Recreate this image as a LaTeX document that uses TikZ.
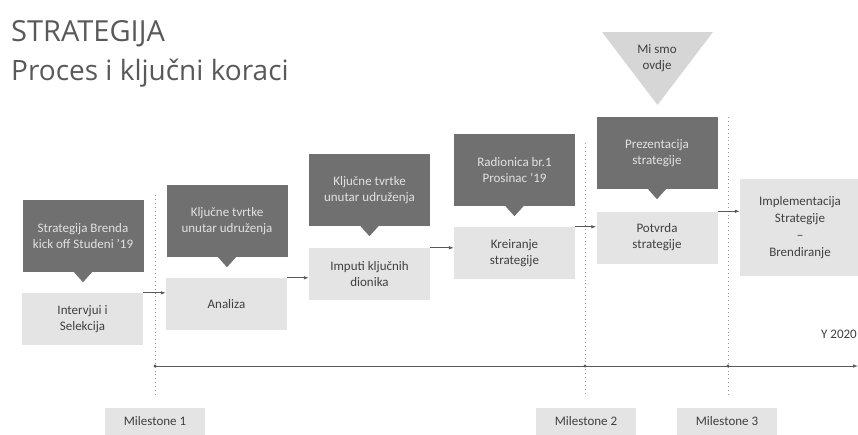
\documentclass[tikz,border=0pt]{standalone}
\usepackage{fontspec}
\setmainfont{Carlito}
\newfontfamily\titlefont{Open Sans}
\usetikzlibrary{arrows.meta}
\definecolor{darkbox}{HTML}{707070}
\definecolor{lightbox}{HTML}{E4E4E4}
\definecolor{tribox}{HTML}{D6D6D6}
\definecolor{darktext}{HTML}{E2E2E2}
\definecolor{lighttext}{HTML}{404040}
\definecolor{titletext}{HTML}{595959}
\definecolor{linecol}{HTML}{595959}
\tikzset{
  boxtext/.style={font=\fontsize{13}{16}\selectfont, align=center, inner sep=0pt},
  lbox/.style={boxtext, fill=lightbox, text=lighttext, minimum width=121pt, minimum height=52pt},
  dbox/.style={boxtext, fill=darkbox, text=darktext, minimum width=121pt, minimum height=72pt},
  mbox/.style={boxtext, fill=lightbox, text=lighttext, minimum width=100pt, minimum height=27pt},
  arr/.style={draw=linecol, line width=0.8pt, -{Latex[length=5pt,width=3.5pt]}},
  dotline/.style={draw=gray!80, line width=0.9pt, dash pattern=on 0.9pt off 3pt},
}
\newcommand{\calltip}[1]{\fill[darkbox] ([xshift=-9pt]#1.south) -- ([xshift=9pt]#1.south) -- ([yshift=-10pt]#1.south) -- cycle;}
\begin{document}
\begin{tikzpicture}[x=1pt,y=-1pt]
\useasboundingbox (0,0) rectangle (858,434);
% title
\node[anchor=base west, inner sep=0pt, font=\titlefont\fontsize{29}{34}\selectfont, text=titletext] (t1) at (11,41) {STRATEGIJA};
\node[anchor=base west, inner sep=0pt, font=\titlefont\fontsize{28}{34}\selectfont, text=titletext] (t2) at (11,80) {Proces i ključni koraci};
% milestone dotted lines
\coordinate (v1t) at (155,195); \coordinate (v1b) at (155,395);
\coordinate (v2t) at (585,143); \coordinate (v2b) at (585,395);
\coordinate (v3t) at (728,117); \coordinate (v3b) at (728,395);
\draw[dotline] (v1t) -- (v1b);
\draw[dotline] (v2t) -- (v2b);
\draw[dotline] (v3t) -- (v3b);
% timeline
\coordinate (tl0) at (155,366);
\coordinate (tl1) at (858,366);
\draw[arr] (tl0) -- (tl1);
\fill[linecol] (v1t |- tl0) circle (1.6pt);
\fill[linecol] (v2t |- tl0) circle (1.6pt);
\fill[linecol] (v3t |- tl0) circle (1.6pt);
% "we are here" triangle
\fill[tribox] (602,32) -- (713,32) -- (657.5,105) -- cycle;
\node[boxtext, text=lighttext] (here) at (657,58) {Mi smo\\ovdje};
% light boxes
\node[lbox] (l1) at (82.5,319) {Intervjui i\\Selekcija};
\node[lbox] (l2) at (226.5,304) {Analiza};
\node[lbox] (l3) at (369.5,274) {Imputi ključnih\\dionika};
\node[lbox] (l4) at (514.5,253) {Kreiranje\\strategije};
\node[lbox] (l5) at (657,237.5) {Potvrda\\strategije};
\node[lbox, minimum width=120pt, minimum height=97pt, font=\fontsize{13}{17}\selectfont] (l6) at (800,227.5) {Implementacija\\Strategije\\–\\Brendiranje};
% dark callouts
\node[dbox] (d1) at (83,236) {Strategija Brenda\\kick off Studeni ’19};
\node[dbox] (d2) at (227,221) {Ključne tvrtke\\unutar udruženja};
\node[dbox] (d3) at (369.5,190) {Ključne tvrtke\\unutar udruženja};
\node[dbox] (d4) at (514.5,170) {Radionica br.1\\Prosinac ’19};
\node[dbox] (d5) at (657,153) {Prezentacija\\strategije};
\calltip{d1}\calltip{d2}\calltip{d3}\calltip{d4}\calltip{d5}
% arrows
\draw[arr] (l1.north east) -- (l1.north east -| l2.west);
\draw[arr] (l2.north east) -- (l2.north east -| l3.west);
\draw[arr] (l3.north east) -- (l3.north east -| l4.west);
\draw[arr] (l4.north east) -- (l4.north east -| l5.west);
\draw[arr] (l5.north east) -- (l5.north east -| l6.west);
% year
\node[boxtext, anchor=east, text=lighttext] (yr) at (857,334) {Y 2020};
% milestones
\node[mbox] (m1) at (155,421) {Milestone 1};
\node[mbox] (m2) at (586,421) {Milestone 2};
\node[mbox] (m3) at (727,421) {Milestone 3};
\end{tikzpicture}
\end{document}
